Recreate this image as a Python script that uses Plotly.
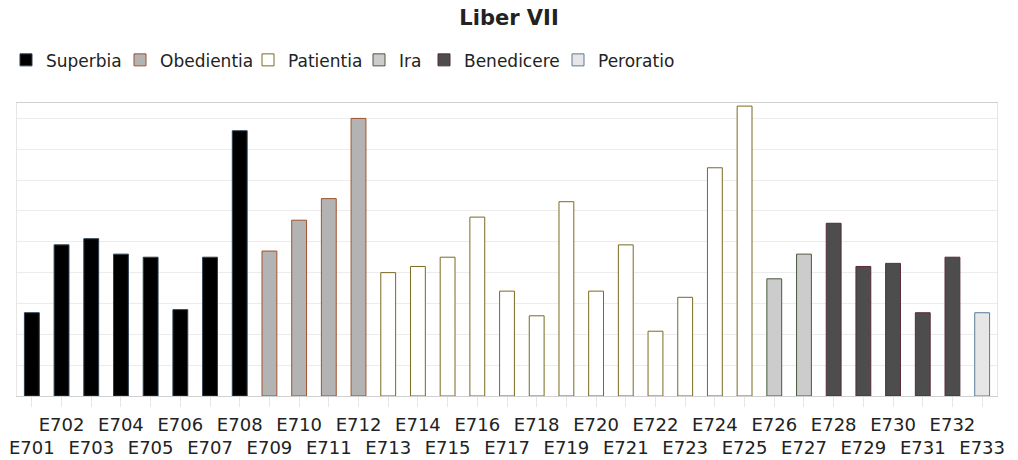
import plotly.graph_objects as go

# chart data
codes = [f"E7{n:02d}" for n in range(1, 34)]
values = [2.7, 4.9, 5.1, 4.6, 4.5, 2.8, 4.5, 8.6,
          4.7, 5.7, 6.4, 9.0,
          4.0, 4.2, 4.5, 5.8, 3.4, 2.6, 6.3, 3.4, 4.9, 2.1, 3.2, 7.4, 9.4,
          3.8, 4.6,
          5.6, 4.2, 4.3, 2.7, 4.5,
          2.7]
sections = ["Superbia", "Obedientia", "Patientia", "Ira", "Benedicere", "Peroratio"]
section_sizes = [8, 4, 13, 2, 5, 1]

fills = ['#000000', '#b3b3b3', '#ffffff', '#cccccc', '#4d4d4d', '#e6e6e6']
edges = ['#2c3e50', '#a0522d', '#7a6a20', '#4a5a3a', '#5a2a3a', '#5a7a9a']

# left edge (px) of each legend entry
legend_left = [6, 120, 248, 359, 424, 558]

W, H = 1018, 460
fig = go.Figure()

start = 0
legends = {}
for k, (name, size, fc, ec) in enumerate(zip(sections, section_sizes, fills, edges)):
    lg = 'legend' if k == 0 else f'legend{k + 1}'
    fig.add_trace(go.Bar(
        x=codes[start:start + size],
        y=values[start:start + size],
        name=name,
        legend=lg,
        showlegend=True,
        marker=dict(color=fc, line=dict(color=ec, width=1)),
    ))
    legends[lg] = dict(orientation='h', xref='container', yref='container',
                       x=legend_left[k] / W, y=0.908, xanchor='left', yanchor='top',
                       itemwidth=30, font=dict(size=17, color='#222222'),
                       bgcolor='rgba(0,0,0,0)')
    start += size

# alternate tick labels on two rows
ticktext = [c if i % 2 == 1 else "<br>" + c for i, c in enumerate(codes)]

fig.update_layout(
    title=dict(text="<b>Liber VII</b>", x=0.5, xanchor='center', y=0.961, yanchor='middle',
               font=dict(family='DejaVu Sans', size=21, color='#222222')),
    width=W, height=H,
    paper_bgcolor='white', plot_bgcolor='white',
    margin=dict(l=17, r=21, t=103, b=64),
    barmode='relative',
    bargap=0.5,
    showlegend=True,
    font=dict(family='DejaVu Sans', color='#222222'),
    **legends,
)

fig.update_xaxes(
    categoryorder='array', categoryarray=codes,
    tickmode='array', tickvals=codes, ticktext=ticktext,
    tickangle=0, automargin=False,
    ticks='outside', ticklen=10, tickcolor='#e6e6e6', ticklabelstandoff=2,
    tickfont=dict(size=18, color='#222222'),
    showline=True, linecolor='#d0d0d0', mirror=True,
    showgrid=False,
)
fig.update_yaxes(
    range=[0, 9.5], dtick=1, showticklabels=False, automargin=False,
    gridcolor='#ececec', showline=True, linecolor='#e6e6e6', mirror=True,
    zeroline=False,
)

fig.write_html("out.html", config={'displayModeBar': False},
               post_script="document.body.style.margin='0';")
